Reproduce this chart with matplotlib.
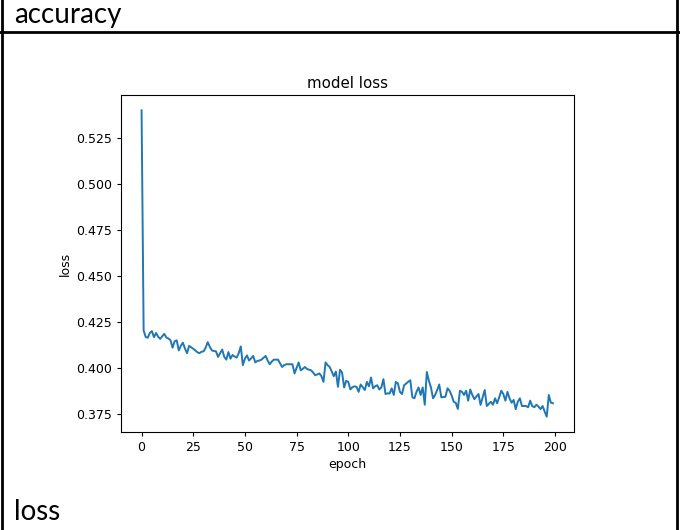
import matplotlib.pyplot as plt
from matplotlib.lines import Line2D

# loss per epoch from the training run
loss = [
    0.5400, 0.4203, 0.4168, 0.4164, 0.4190, 0.4200, 0.4167, 0.4190, 0.4170, 0.4158,
    0.4172, 0.4185, 0.4165, 0.4160, 0.4150, 0.4110, 0.4145, 0.4150, 0.4095, 0.4120,
    0.4137, 0.4105, 0.4080, 0.4120, 0.4112, 0.4104, 0.4095, 0.4085, 0.4080, 0.4088,
    0.4090, 0.4110, 0.4140, 0.4115, 0.4095, 0.4092, 0.4090, 0.4060, 0.4080, 0.4100,
    0.4060, 0.4045, 0.4086, 0.4050, 0.4070, 0.4062, 0.4056, 0.4080, 0.4117, 0.4015,
    0.4050, 0.4068, 0.4040, 0.4052, 0.4065, 0.4030, 0.4038, 0.4040, 0.4045, 0.4055,
    0.4065, 0.4040, 0.4020, 0.4035, 0.4045, 0.4045, 0.4045, 0.4025, 0.4005, 0.4015,
    0.4020, 0.4020, 0.4020, 0.4020, 0.3970, 0.4000, 0.4030, 0.3987, 0.3995, 0.4005,
    0.3995, 0.3990, 0.3987, 0.3975, 0.3960, 0.3965, 0.3970, 0.3955, 0.3924, 0.4030,
    0.4015, 0.4005, 0.3980, 0.3955, 0.3980, 0.3897, 0.3990, 0.3975, 0.3894, 0.3930,
    0.3924, 0.3883, 0.3895, 0.3900, 0.3897, 0.3870, 0.3910, 0.3895, 0.3880, 0.3924,
    0.3900, 0.3948, 0.3889, 0.3900, 0.3906, 0.3883, 0.3894, 0.3939, 0.3858, 0.3862,
    0.3861, 0.3889, 0.3853, 0.3924, 0.3916, 0.3870, 0.3858, 0.3906, 0.3915, 0.3925,
    0.3933, 0.3840, 0.3835, 0.3870, 0.3894, 0.3853, 0.3894, 0.3800, 0.3978, 0.3930,
    0.3894, 0.3835, 0.3853, 0.3880, 0.3910, 0.3840, 0.3842, 0.3843, 0.3889, 0.3876,
    0.3850, 0.3816, 0.3810, 0.3777, 0.3876, 0.3870, 0.3853, 0.3876, 0.3822, 0.3883,
    0.3853, 0.3830, 0.3845, 0.3858, 0.3799, 0.3840, 0.3880, 0.3793, 0.3805, 0.3816,
    0.3800, 0.3835, 0.3808, 0.3840, 0.3876, 0.3858, 0.3822, 0.3870, 0.3835, 0.3811,
    0.3826, 0.3776, 0.3816, 0.3835, 0.3793, 0.3793, 0.3793, 0.3786, 0.3822, 0.3793,
    0.3786, 0.3800, 0.3790, 0.3776, 0.3793, 0.3763, 0.3735, 0.3853, 0.3811, 0.3808,
]
epochs = list(range(len(loss)))

x_ticks = [0, 25, 50, 75, 100, 125, 150, 175, 200]
y_ticks = [0.375, 0.400, 0.425, 0.450, 0.475, 0.500, 0.525]

W, H = 680, 530
fig = plt.figure(figsize=(W / 100, H / 100), dpi=100)

# table cell borders
def hline(y, x0=0, x1=W, lw=2):
    fig.add_artist(Line2D([x0 / W, x1 / W], [1 - y / H, 1 - y / H],
                          color='black', lw=lw, transform=fig.transFigure))

def vline(x, y0=0, y1=H, lw=2):
    fig.add_artist(Line2D([x / W, x / W], [1 - y0 / H, 1 - y1 / H],
                          color='black', lw=lw, transform=fig.transFigure))

vline(2)
vline(677)
hline(31.5)

fig.text(14 / W, 1 - 15 / H, 'accuracy', fontsize=20, family='Lato',
         va='center', ha='left')
fig.text(14 / W, 1 - 512 / H, 'loss', fontsize=20, family='Lato',
         va='center', ha='left')

# the loss plot
ax = fig.add_axes([121 / W, 1 - 432 / H, (573.5 - 121) / W, (432 - 95) / H])
ax.plot(epochs, loss, color='#1f77b4', lw=1.4)
ax.set_title('model loss', fontsize=10.8, pad=5)
ax.set_xlabel('epoch', fontsize=9, labelpad=3)
ax.set_ylabel('loss', fontsize=9, labelpad=3)
ax.set_xticks(x_ticks)
ax.set_yticks(y_ticks)
ax.set_yticklabels([f'{v:.3f}' for v in y_ticks])
ax.tick_params(labelsize=9, length=3.2, width=0.8)
for s in ax.spines.values():
    s.set_linewidth(0.8)

fig.savefig('out.png', dpi=100)
